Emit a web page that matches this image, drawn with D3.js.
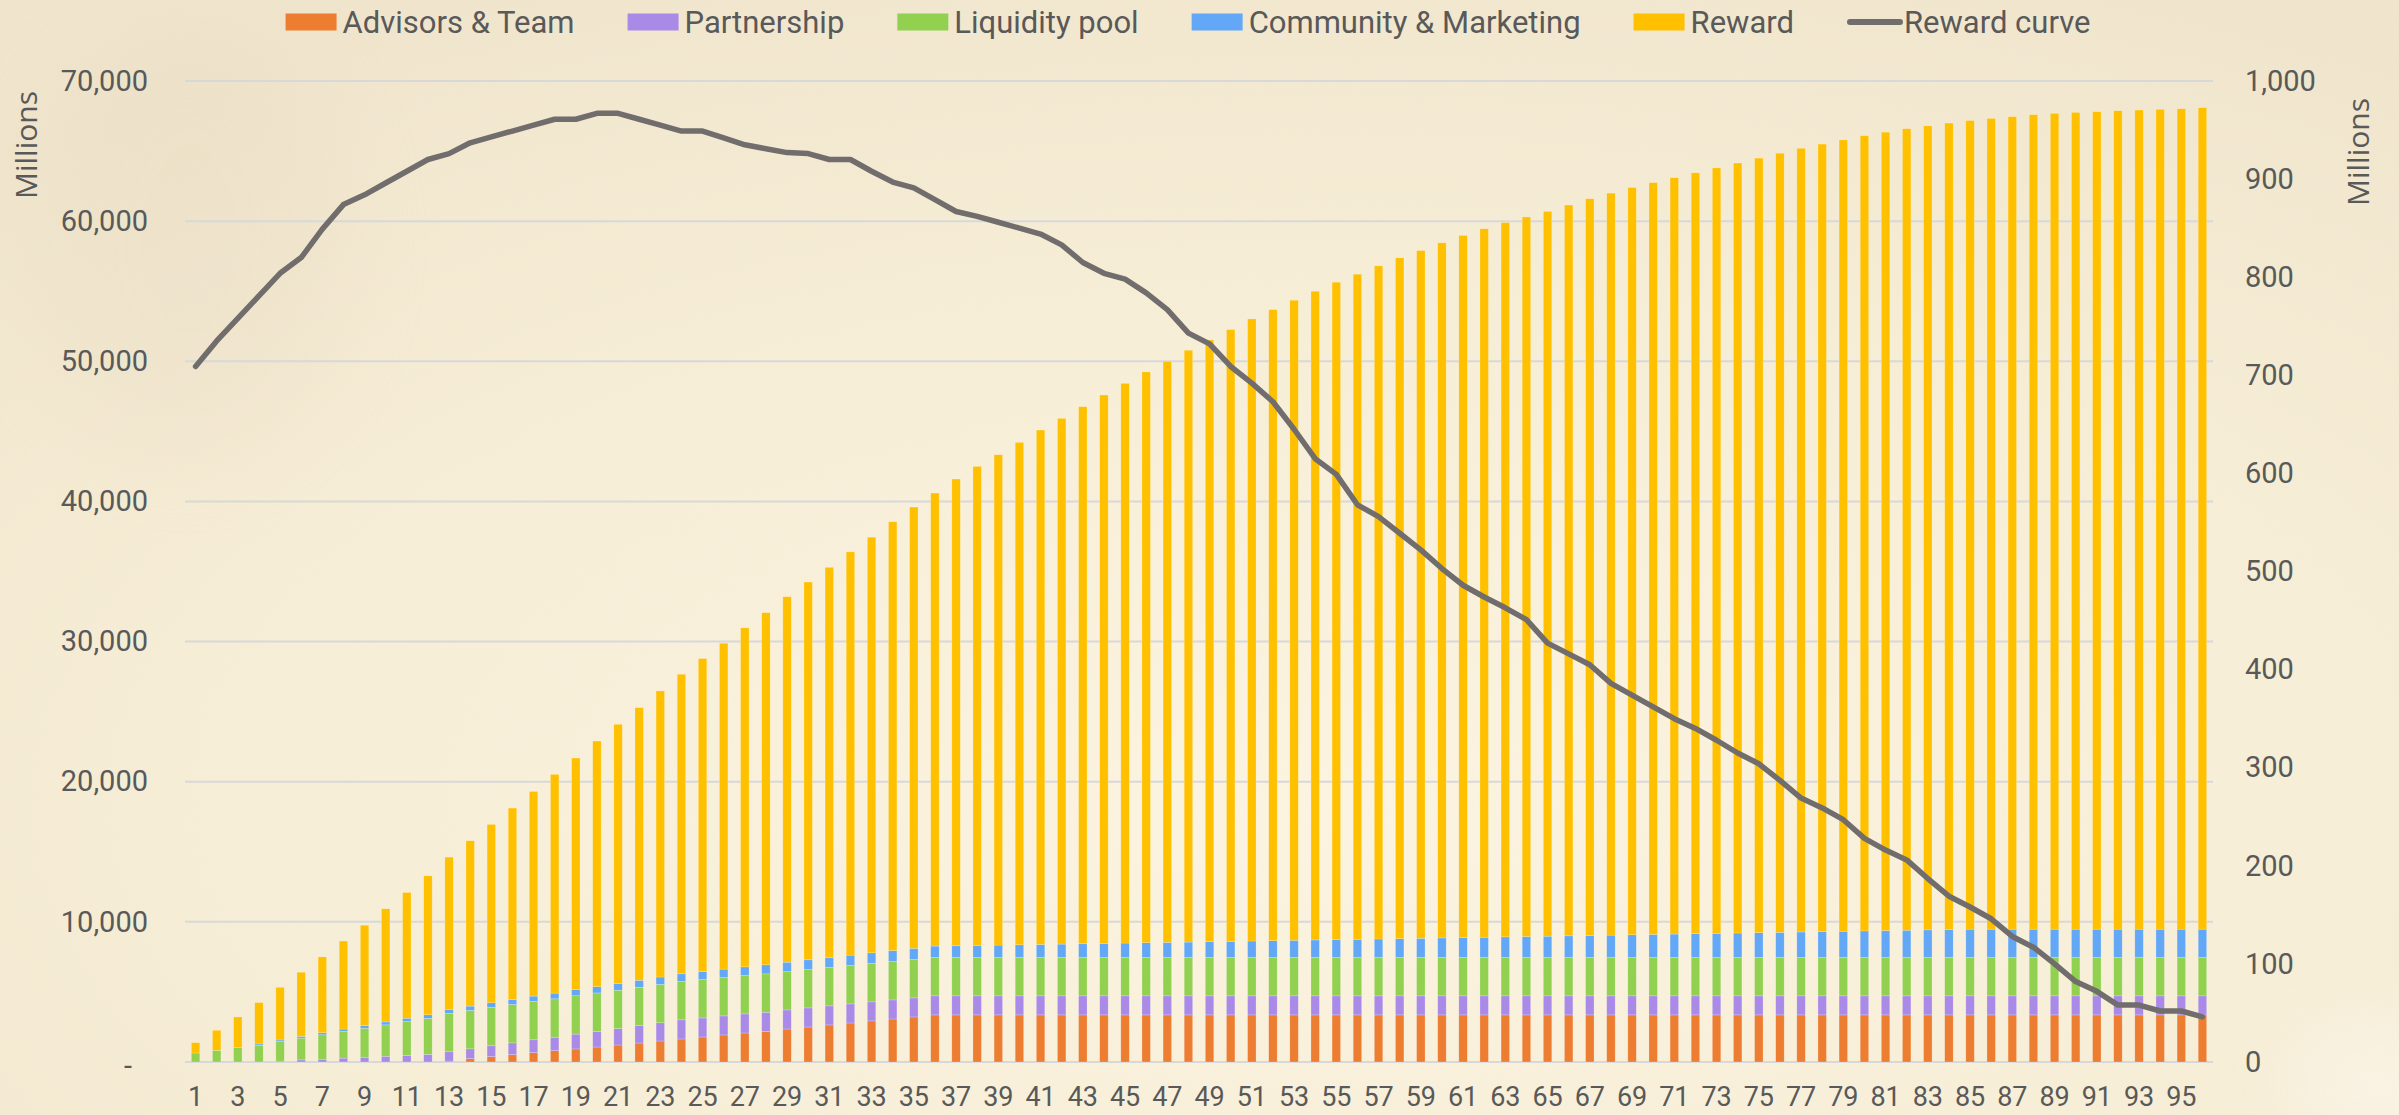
<!DOCTYPE html>
<html>
<head>
<meta charset="utf-8">
<script src="https://cdn.jsdelivr.net/npm/d3@7"></script>
<style>
  html, body { margin: 0; padding: 0; background: #f3e9d0; }
  svg { display: block; }
</style>
</head>
<body>
<svg id="chart" width="2399" height="1115"></svg>
<script>
// months on the x axis
const months = d3.range(1, 97);

// stacked series, in millions
const advisorsTeam = [
    0, 0, 0, 0, 0, 0, 0, 0, 0, 0, 0, 0,
    70, 240, 380, 525, 665, 810, 930, 1070, 1215, 1355, 1500, 1645,
    1785, 1930, 2070, 2190, 2355, 2500, 2645, 2785, 2930, 3070, 3215, 3360,
    3360, 3360, 3360, 3360, 3360, 3360, 3360, 3360, 3360, 3360, 3360, 3360,
    3360, 3360, 3360, 3360, 3360, 3360, 3360, 3360, 3360, 3360, 3360, 3360,
    3360, 3360, 3360, 3360, 3360, 3360, 3360, 3360, 3360, 3360, 3360, 3360,
    3360, 3360, 3360, 3360, 3360, 3360, 3360, 3360, 3360, 3360, 3360, 3360,
    3360, 3360, 3360, 3360, 3360, 3360, 3360, 3360, 3360, 3360, 3360, 3360
];
const partnership = [
    0, 0, 0, 0, 70, 150, 200, 280, 340, 410, 470, 550,
    660, 700, 780, 840, 920, 960, 1060, 1120, 1170, 1240, 1300, 1360,
    1360, 1360, 1360, 1360, 1360, 1360, 1360, 1360, 1360, 1360, 1360, 1360,
    1360, 1360, 1360, 1360, 1360, 1360, 1360, 1360, 1360, 1360, 1360, 1360,
    1360, 1360, 1360, 1360, 1360, 1360, 1360, 1360, 1360, 1360, 1360, 1360,
    1360, 1360, 1360, 1360, 1360, 1360, 1360, 1360, 1360, 1360, 1360, 1360,
    1360, 1360, 1360, 1360, 1360, 1360, 1360, 1360, 1360, 1360, 1360, 1360,
    1360, 1360, 1360, 1360, 1360, 1360, 1360, 1360, 1360, 1360, 1360, 1360
];
const liquidityPool = [
    643, 833, 1024, 1195, 1385, 1550, 1740, 1905, 2070, 2240, 2420, 2560,
    2738, 2738, 2738, 2738, 2738, 2738, 2738, 2738, 2738, 2738, 2738, 2738,
    2738, 2738, 2738, 2738, 2738, 2738, 2738, 2738, 2738, 2738, 2738, 2738,
    2738, 2738, 2738, 2738, 2738, 2738, 2738, 2738, 2738, 2738, 2738, 2738,
    2738, 2738, 2738, 2738, 2738, 2738, 2738, 2738, 2738, 2738, 2738, 2738,
    2738, 2738, 2738, 2738, 2738, 2738, 2738, 2738, 2738, 2738, 2738, 2738,
    2738, 2738, 2738, 2738, 2738, 2738, 2738, 2738, 2738, 2738, 2738, 2738,
    2738, 2738, 2738, 2738, 2738, 2738, 2738, 2738, 2738, 2738, 2738, 2738
];
const communityMarketing = [
    0, 0, 0, 95, 115, 130, 145, 165, 190, 210, 235, 260,
    285, 310, 330, 355, 380, 405, 430, 450, 475, 500, 525, 550,
    570, 600, 620, 645, 670, 695, 715, 740, 765, 785, 800, 815,
    835, 860, 885, 905, 930, 955, 980, 1005, 1030, 1055, 1080, 1100,
    1125, 1150, 1175, 1200, 1225, 1250, 1270, 1295, 1320, 1345, 1370, 1395,
    1420, 1445, 1470, 1495, 1520, 1545, 1570, 1595, 1620, 1645, 1670, 1700,
    1720, 1745, 1770, 1795, 1820, 1845, 1870, 1895, 1920, 1945, 1970, 1995,
    2020, 2020, 2020, 2020, 2020, 2020, 2020, 2020, 2020, 2020, 2020, 2020
];
const reward = [
    740, 1430, 2190, 2950, 3760, 4575, 5415, 6280, 7160, 8070, 8970, 9915,
    10865, 11800, 12725, 13660, 14605, 15610, 16530, 17525, 18500, 19450, 20415, 21375,
    22335, 23255, 24190, 25130, 26075, 26955, 27840, 28775, 29655, 30595, 31485, 32325,
    33305, 34180, 34985, 35850, 36705, 37515, 38325, 39130, 39940, 40725, 41460, 42230,
    42940, 43655, 44390, 45030, 45675, 46290, 46915, 47460, 48030, 48580, 49075, 49600,
    50100, 50550, 50970, 51345, 51720, 52145, 52570, 52945, 53320, 53645, 53970, 54290,
    54620, 54945, 55270, 55595, 55920, 56195, 56470, 56745, 56970, 57195, 57370, 57545,
    57700, 57850, 57980, 58120, 58210, 58280, 58330, 58400, 58450, 58500, 58540, 58620
];

// monthly reward, right axis (millions)
const rewardCurve = [
    709, 735, 758, 781, 804, 820, 849, 874, 884, 896, 908, 920,
    926, 937, 943, 949, 955, 961, 961, 967, 967, 961, 955, 949,
    949, 942, 935, 931, 927, 926, 920, 920, 908, 897, 891, 879,
    867, 862, 856, 850, 844, 833, 815, 804, 798, 784, 767, 743,
    732, 709, 692, 673, 645, 615, 599, 568, 556, 539, 522, 503,
    486, 474, 463, 451, 427, 416, 405, 386, 374, 362, 350, 340,
    328, 315, 304, 287, 269, 259, 247, 228, 216, 206, 187, 169,
    158, 146, 128, 117, 100, 82, 72, 58, 58, 52, 52, 46
];

const seriesNames = ["Advisors & Team", "Partnership", "Liquidity pool", "Community & Marketing", "Reward"];
const seriesColors = ["#ed7d31", "#a98ae6", "#92d050", "#62a8f6", "#ffc000"];
const seriesValues = [advisorsTeam, partnership, liquidityPool, communityMarketing, reward];
const lineName = "Reward curve";
const lineColor = "#716d6c";

const leftTicks = d3.range(0, 70001, 10000);
const rightTicks = d3.range(0, 1001, 100);
const bottomTicks = months.filter(m => m % 2 === 1);

const layout = {
    width: 2399,
    height: 1115,
    plotLeft: 185,
    plotRight: 2213,
    plotTop: 81,
    plotBottom: 1062,
    legendY: 22,
    legendCenter: 1188
};

const textColor = "#595959";
const tickFont = "Roboto, 'DejaVu Sans', sans-serif";

const svg = d3.select("#chart");

// ---- parchment background ----
const defs = svg.append("defs");
const bg = defs.append("radialGradient")
    .attr("id", "paper")
    .attr("cx", "0.55").attr("cy", "0.72").attr("r", "0.8");
bg.append("stop").attr("offset", "0%").attr("stop-color", "#fbf3df");
bg.append("stop").attr("offset", "60%").attr("stop-color", "#f6ecd4");
bg.append("stop").attr("offset", "100%").attr("stop-color", "#efe4ca");

const grain = defs.append("filter").attr("id", "grain")
    .attr("x", 0).attr("y", 0).attr("width", "100%").attr("height", "100%");
grain.append("feTurbulence").attr("type", "fractalNoise").attr("baseFrequency", 0.9).attr("numOctaves", 2).attr("seed", 4);
grain.append("feColorMatrix").attr("type", "matrix")
    .attr("values", "0 0 0 0 1  0 0 0 0 1  0 0 0 0 1  0 0 0 0.08 0");

const blur = defs.append("filter").attr("id", "soft").attr("x", "-50%").attr("y", "-50%").attr("width", "200%").attr("height", "200%");
blur.append("feGaussianBlur").attr("stdDeviation", 45);

svg.append("rect").attr("width", layout.width).attr("height", layout.height).attr("fill", "url(#paper)");
// faint artwork shadows in the corners
svg.append("ellipse").attr("cx", 190).attr("cy", 240).attr("rx", 160).attr("ry", 220)
    .attr("fill", "#e2d6bb").attr("opacity", 0.25).attr("filter", "url(#soft)");
svg.append("ellipse").attr("cx", 2380).attr("cy", 1090).attr("rx", 90).attr("ry", 60)
    .attr("fill", "#ffffff").attr("opacity", 0.45).attr("filter", "url(#soft)");
svg.append("rect").attr("width", layout.width).attr("height", layout.height).attr("filter", "url(#grain)");

// ---- scales ----
const x = d3.scaleBand()
    .domain(months)
    .range([layout.plotLeft, layout.plotRight])
    .paddingInner(0.6)
    .paddingOuter(0.3);
const yLeft = d3.scaleLinear().domain([0, 70000]).range([layout.plotBottom, layout.plotTop]);
const yRight = d3.scaleLinear().domain([0, 1000]).range([layout.plotBottom, layout.plotTop]);

// ---- gridlines ----
svg.append("g").attr("class", "grid")
    .selectAll("line").data(leftTicks).enter()
    .append("line")
    .attr("x1", layout.plotLeft).attr("x2", layout.plotRight)
    .attr("y1", d => yLeft(d)).attr("y2", d => yLeft(d))
    .attr("stroke", "#d8d8d8")
    .attr("stroke-width", 2);

// ---- stacked bars ----
const rows = months.map((m, i) => {
    let row = { month: m };
    seriesNames.forEach((name, k) => { row[name] = seriesValues[k][i]; });
    return row;
});
const stacked = d3.stack().keys(seriesNames)(rows);

svg.append("g").attr("class", "bars")
    .selectAll("g").data(stacked).enter()
    .append("g")
    .attr("fill", (d, i) => seriesColors[i])
    .selectAll("rect").data(d => d).enter()
    .append("rect")
    .attr("x", d => x(d.data.month))
    .attr("width", x.bandwidth())
    .attr("y", d => yLeft(d[1]))
    .attr("height", d => Math.max(0, yLeft(d[0]) - yLeft(d[1])))
    .attr("stroke", "rgba(255,255,255,0.35)")
    .attr("stroke-width", 0.6);

// ---- reward curve ----
const line = d3.line()
    .x((d, i) => x(months[i]) + x.bandwidth() / 2)
    .y(d => yRight(d));
svg.append("path")
    .datum(rewardCurve)
    .attr("d", line)
    .attr("fill", "none")
    .attr("stroke", lineColor)
    .attr("stroke-width", 5.5)
    .attr("stroke-linejoin", "round")
    .attr("stroke-linecap", "round");

// ---- axes ----
function styleAxis(g, size) {
    g.select(".domain").remove();
    g.selectAll("text")
        .attr("font-family", tickFont)
        .attr("font-size", size)
        .attr("fill", textColor);
    return g;
}

const leftAxis = svg.append("g")
    .attr("transform", "translate(148, 0)")
    .call(d3.axisLeft(yLeft).tickValues(leftTicks).tickSize(0).tickPadding(0)
        .tickFormat(d => d === 0 ? "-" : d3.format(",")(d)));
styleAxis(leftAxis, 29);
leftAxis.selectAll(".tick").filter(d => d === 0).select("text").attr("dx", -16).attr("dy", "0.45em");

const rightAxis = svg.append("g")
    .attr("transform", "translate(2245, 0)")
    .call(d3.axisRight(yRight).tickValues(rightTicks).tickSize(0).tickPadding(0).tickFormat(d3.format(",")));
styleAxis(rightAxis, 29);

const bottomAxis = svg.append("g")
    .attr("transform", "translate(0, " + layout.plotBottom + ")")
    .call(d3.axisBottom(x).tickValues(bottomTicks).tickSize(0).tickPadding(25));
styleAxis(bottomAxis, 27);

// axis titles
svg.append("text")
    .attr("transform", "translate(37, 145) rotate(-90)")
    .attr("text-anchor", "middle")
    .attr("font-family", "'Open Sans', sans-serif")
    .attr("font-size", 30)
    .attr("fill", textColor)
    .text("Millions");
svg.append("text")
    .attr("transform", "translate(2369, 152) rotate(-90)")
    .attr("text-anchor", "middle")
    .attr("font-family", "'Open Sans', sans-serif")
    .attr("font-size", 30)
    .attr("fill", textColor)
    .text("Millions");

// ---- legend ----
const legendItems = seriesNames.map((name, i) => ({ name: name, color: seriesColors[i], type: "box" }))
    .concat([{ name: lineName, color: lineColor, type: "line" }]);
const legend = svg.append("g").attr("class", "legend");
const swatchW = 51, swatchGap = 6, itemGap = 53;
let cursor = 0;
legendItems.forEach(item => {
    let g = legend.append("g").attr("transform", "translate(" + cursor + ", 0)");
    if (item.type === "box") {
        g.append("rect").attr("x", 0).attr("y", layout.legendY - 8.5)
            .attr("width", swatchW).attr("height", 17).attr("fill", item.color);
    } else {
        g.append("line").attr("x1", 3).attr("x2", swatchW + 2)
            .attr("y1", layout.legendY).attr("y2", layout.legendY)
            .attr("stroke", item.color).attr("stroke-width", 6).attr("stroke-linecap", "round");
    }
    let t = g.append("text")
        .attr("x", swatchW + swatchGap)
        .attr("y", layout.legendY)
        .attr("dy", "0.36em")
        .attr("font-family", tickFont)
        .attr("font-size", 31)
        .attr("fill", textColor)
        .text(item.name);
    cursor += swatchW + swatchGap + t.node().getComputedTextLength() + itemGap;
});
let legendWidth = cursor - itemGap;
legend.attr("transform", "translate(" + (layout.legendCenter - legendWidth / 2) + ", 0)");
</script>
</body>
</html>
